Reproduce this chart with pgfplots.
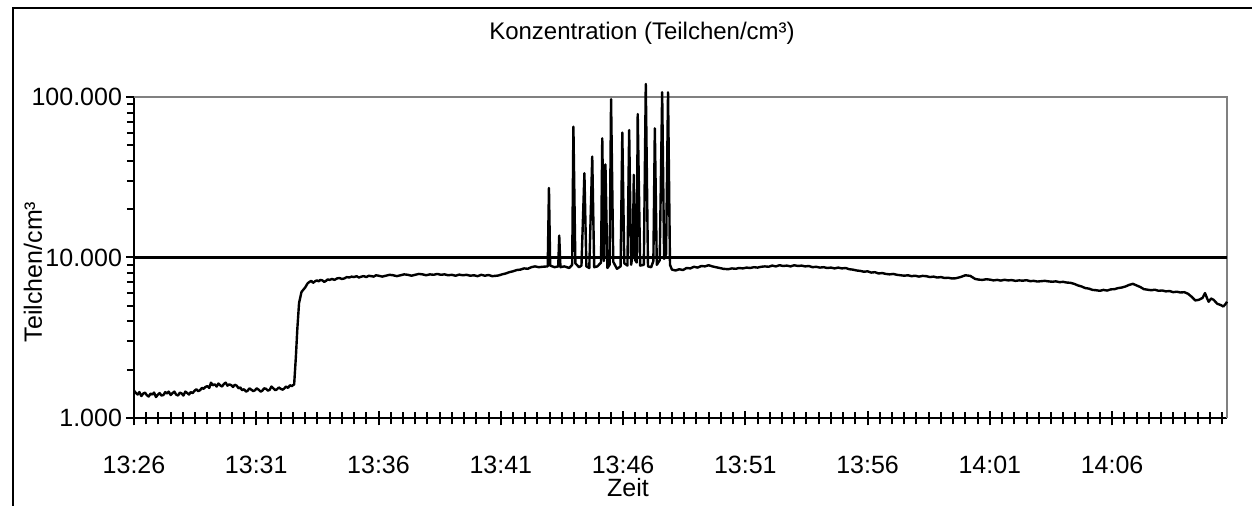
\documentclass[border=0pt]{standalone}
\usepackage{pgfplots}
\pgfplotsset{compat=1.18}
\usepackage{fontspec}
\setmainfont{Liberation Sans}

\begin{document}
\begin{tikzpicture}
\useasboundingbox (0pt,0pt) rectangle (626pt,253pt);
\draw[line width=1pt] (6.5pt,0pt) -- (6.5pt,249pt) -- (626pt,249pt);
\begin{axis}[
  at={(67pt,44pt)}, anchor=south west,
  scale only axis, width=546.5pt, height=160.5pt,
  clip=false,
  xmin=0, xmax=44.7, ymin=1000, ymax=100000, ymode=log,
  xtick={0,5,...,40},
  xticklabels={13:26,13:31,13:36,13:41,13:46,13:51,13:56,14:01,14:06},
  minor xtick={0,0.5,...,44.5},
  xtick align=center,
  ytick={1000,10000,100000},
  yticklabels={1.000,10.000,100.000},
  ytick align=outside,
  axis x line*=bottom, axis y line*=left,
  axis line style={-, line width=1pt, black},
  major tick length=7.5pt, minor tick length=6.5pt,
  every tick/.style={black, line width=1pt},
  y tick style={/pgfplots/major tick length=4pt, /pgfplots/minor tick length=3.5pt},
  tick label style={font=\fontsize{12.5}{15}\selectfont, text=black},
  xticklabel style={yshift=-12pt},
  yticklabel style={xshift=5pt},
  title={Konzentration (Teilchen/cm³)},
  title style={at={(axis description cs:0.4648,1.162)}, anchor=center, font=\fontsize{12}{14}\selectfont},
  xlabel={Zeit},
  xlabel style={at={(axis description cs:0.452,-0.218)}, anchor=center, font=\fontsize{12.5}{15}\selectfont},
  ylabel={Teilchen/cm³},
  every axis y label/.style={at={(axis description cs:-0.0924,0.455)}, anchor=center, rotate=90, font=\fontsize{12.5}{15}\selectfont},
]
\draw[gray, line width=1pt] (rel axis cs:0,1) -- (rel axis cs:1,1) -- (rel axis cs:1,0);
\draw[black, line width=1.5pt] (axis cs:0,10000) -- (axis cs:44.7,10000);
\addplot[black, line width=1.2pt, line join=round] table {
t v
0.00 1480
0.08 1430
0.15 1400
0.22 1450
0.30 1370
0.38 1420
0.45 1440
0.52 1390
0.60 1360
0.68 1420
0.75 1400
0.82 1440
0.90 1350
0.98 1400
1.05 1430
1.12 1380
1.20 1390
1.28 1450
1.35 1420
1.42 1460
1.50 1390
1.58 1430
1.65 1460
1.72 1400
1.80 1380
1.88 1440
1.95 1420
2.02 1380
2.10 1460
2.18 1430
2.25 1400
2.32 1450
2.40 1430
2.48 1480
2.55 1510
2.62 1470
2.70 1490
2.78 1540
2.85 1520
2.92 1560
3.00 1580
3.08 1540
3.15 1660
3.22 1600
3.30 1620
3.38 1570
3.45 1640
3.52 1600
3.60 1570
3.68 1630
3.75 1660
3.82 1590
3.90 1620
3.98 1600
4.05 1560
4.12 1610
4.20 1590
4.28 1530
4.35 1550
4.42 1490
4.50 1510
4.58 1460
4.65 1480
4.72 1530
4.80 1500
4.88 1470
4.95 1490
5.02 1530
5.10 1500
5.18 1460
5.25 1480
5.32 1530
5.40 1520
5.48 1480
5.55 1500
5.62 1570
5.70 1530
5.78 1490
5.85 1510
5.92 1550
6.00 1520
6.08 1500
6.15 1530
6.22 1570
6.30 1540
6.38 1600
6.45 1580
6.55 1620
6.62 2400
6.68 3600
6.75 5200
6.85 6100
7.00 6500
7.10 6900
7.18 7050
7.25 7150
7.32 6950
7.40 7100
7.48 7200
7.55 7100
7.62 7250
7.70 7200
7.78 7050
7.85 7150
7.92 7300
8.00 7250
8.10 7350
8.20 7250
8.30 7400
8.40 7450
8.50 7350
8.60 7400
8.70 7550
8.80 7500
8.90 7600
9.00 7550
9.10 7650
9.20 7500
9.30 7600
9.40 7650
9.50 7550
9.60 7700
9.70 7650
9.80 7600
9.90 7750
10.0 7700
10.15 7600
10.3 7700
10.45 7800
10.6 7750
10.75 7650
10.9 7750
11.05 7850
11.2 7800
11.35 7700
11.5 7800
11.65 7900
11.8 7850
11.95 7750
12.1 7850
12.25 7800
12.4 7900
12.55 7800
12.7 7850
12.85 7750
13.0 7800
13.15 7700
13.3 7820
13.45 7750
13.6 7800
13.75 7700
13.9 7750
14.05 7650
14.2 7800
14.35 7700
14.5 7780
14.65 7650
14.9 7720
15.05 7850
15.2 7950
15.35 8100
15.5 8200
15.65 8350
15.8 8400
15.95 8550
16.1 8500
16.25 8700
16.4 8800
16.55 8700
16.7 8750
16.92 8800
16.97 27100
17.02 8900
17.20 8700
17.35 8800
17.39 13700
17.44 8700
17.60 8800
17.80 8600
17.92 9000
17.97 65300
18.05 9200
18.20 8700
18.30 8900
18.42 33500
18.50 8800
18.62 8600
18.74 42500
18.82 8700
18.95 8800
19.10 9300
19.15 55300
19.22 9500
19.28 38000
19.36 8600
19.45 9000
19.51 96900
19.60 9400
19.75 8500
19.90 8800
19.97 60000
20.05 9200
20.18 8900
20.25 62200
20.33 9000
20.40 10500
20.44 32700
20.50 9600
20.56 9300
20.60 78300
20.70 8900
20.85 9000
20.93 120500
21.02 8800
21.15 8700
21.24 9500
21.30 63800
21.38 9000
21.50 9600
21.60 107000
21.68 9800
21.76 10500
21.84 107000
21.92 9000
22.00 8400
22.15 8300
22.3 8450
22.45 8350
22.6 8600
22.75 8550
22.9 8750
23.05 8650
23.2 8850
23.35 8800
23.5 8950
23.65 8800
23.8 8700
23.95 8600
24.1 8500
24.3 8450
24.45 8550
24.6 8500
24.75 8600
24.9 8550
25.05 8650
25.2 8600
25.35 8700
25.5 8650
25.65 8750
25.8 8800
25.95 8750
26.1 8900
26.25 8800
26.4 8950
26.55 8850
26.7 8900
26.85 8800
27.0 8950
27.15 8850
27.3 8900
27.45 8800
27.6 8850
27.75 8700
27.9 8750
28.05 8650
28.2 8700
28.35 8600
28.5 8650
28.65 8550
28.8 8650
28.95 8550
29.1 8600
29.25 8450
29.4 8400
29.55 8300
29.7 8250
29.85 8150
30.0 8200
30.15 8050
30.3 8100
30.45 7950
30.6 8000
30.75 7900
30.9 7850
31.05 7900
31.2 7800
31.35 7750
31.5 7700
31.65 7750
31.8 7650
31.95 7700
32.1 7600
32.25 7680
32.4 7650
32.55 7550
32.7 7600
32.85 7500
33.0 7550
33.15 7450
33.3 7480
33.45 7400
33.6 7420
33.8 7550
34.0 7750
34.2 7680
34.4 7350
34.55 7280
34.7 7250
34.85 7320
35.0 7280
35.15 7200
35.3 7250
35.45 7180
35.6 7260
35.75 7200
35.9 7230
36.05 7150
36.2 7200
36.35 7170
36.5 7220
36.65 7120
36.8 7150
36.95 7080
37.1 7120
37.25 7150
37.4 7100
37.55 7060
37.7 7100
37.85 7020
38.0 7050
38.15 6980
38.3 6950
38.45 6850
38.6 6700
38.75 6600
38.9 6450
39.05 6400
39.2 6280
39.35 6250
39.5 6200
39.65 6280
39.8 6220
39.95 6330
40.1 6350
40.25 6450
40.4 6500
40.55 6600
40.7 6750
40.85 6850
41.0 6700
41.15 6550
41.3 6350
41.45 6300
41.6 6250
41.75 6300
41.9 6200
42.05 6230
42.2 6150
42.35 6180
42.5 6080
42.65 6120
42.8 6050
42.95 6080
43.1 5950
43.25 5700
43.4 5400
43.55 5450
43.7 5600
43.8 6000
43.9 5500
43.95 5300
44.05 5550
44.15 5450
44.3 5150
44.45 5050
44.55 4950
44.65 5150
44.7 5300
};
\end{axis}
\end{tikzpicture}
\end{document}
